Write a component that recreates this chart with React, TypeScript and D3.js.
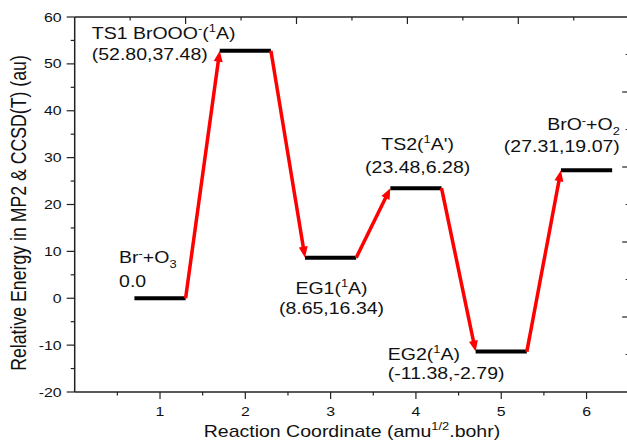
import React from 'react';
import * as d3 from 'd3';

// reaction path data
const positions = [1, 2, 3, 4, 5, 6];
const energies = [0, 52.8, 8.65, 23.48, -11.38, 27.31];
const coordLabels = ['0.0', '(52.80,37.48)', '(8.65,16.34)', '(23.48,6.28)', '(-11.38,-2.79)', '(27.31,19.07)'];

type Seg = { t: string; k?: 'sup' | 'sub' };
const speciesLabels: Seg[][] = [
  [{ t: 'Br' }, { t: '-', k: 'sup' }, { t: '+O' }, { t: '3', k: 'sub' }],
  [{ t: 'TS1 BrOOO' }, { t: '-', k: 'sup' }, { t: '(' }, { t: '1', k: 'sup' }, { t: 'A)' }],
  [{ t: 'EG1(' }, { t: '1', k: 'sup' }, { t: 'A)' }],
  [{ t: 'TS2(' }, { t: '1', k: 'sup' }, { t: "A')" }],
  [{ t: 'EG2(' }, { t: '1', k: 'sup' }, { t: 'A)' }],
  [{ t: 'BrO' }, { t: '-', k: 'sup' }, { t: '+O' }, { t: '2', k: 'sub' }],
];

const xTickValues = [1, 2, 3, 4, 5, 6];
const yTickValues = [-20, -10, 0, 10, 20, 30, 40, 50, 60];

const xTitle: Seg[] = [{ t: 'Reaction Coordinate (amu' }, { t: '1/2', k: 'sup' }, { t: '.bohr)' }];
const yTitle = 'Relative Energy in MP2 & CCSD(T) (au)';

// label placement: anchor, x offset (data units), line baselines relative to level (px)
const labelLayout = [
  { anchor: 'start', dx: -0.48, l1: -35, l2: -11 },
  { anchor: 'start', dx: -1.8, l1: -12, l2: 9.5 },
  { anchor: 'middle', dx: 0.01, l1: 36, l2: 56 },
  { anchor: 'middle', dx: 0.02, l1: -38, l2: -15 },
  { anchor: 'start', dx: -1.33, l1: 8, l2: 27 },
  { anchor: 'end', dx: 0.39, l1: -40, l2: -18 },
];

const W = 627;
const H = 440;
const SX = 1.22; // horizontal stretch of the original figure's text
const FONT = 'Arial, "Liberation Sans", sans-serif';
const AXIS = '#222';
const RED = '#ff0000';

const Rich = ({ segs, size }: { segs: Seg[]; size: number }) => {
  let shift = 0;
  return (
    <>
      {segs.map((s, i) => {
        const target = s.k === 'sup' ? -size * 0.42 : s.k === 'sub' ? size * 0.28 : 0;
        const dy = target - shift;
        shift = target;
        return (
          <tspan key={i} dy={dy} fontSize={s.k ? size * 0.66 : size}>
            {s.t}
          </tspan>
        );
      })}
    </>
  );
};

const App = () => {
  const margin = { top: 17, left: 74.7, bottom: 392, right: 629.2 };

  const x = d3.scaleLinear().domain([0, 6.5]).range([margin.left, margin.right]);
  const y = d3.scaleLinear().domain([-20, 60]).range([margin.bottom, margin.top]);
  // secondary (top / right) axes of the original frame
  const xTop = d3.scaleLinear().domain([0, 5]).range([margin.left, margin.right]);
  const yRight = d3.scaleLinear().domain([0, 5]).range([margin.bottom, margin.top]);

  const xMinor = x.ticks(13).filter(v => v % 1 !== 0);
  const yMinor = y.ticks(16).filter(v => v % 10 !== 0);
  const topMajor = xTop.ticks(5).filter(v => v > 0 && v < 5);
  const topMinor = xTop.ticks(10).filter(v => v % 1 !== 0);
  const rightMajor = yRight.ticks(5).filter(v => v > 0 && v < 5);
  const rightMinor = yRight.ticks(10).filter(v => v % 1 !== 0);

  const half = 0.3;

  // arrows between consecutive levels
  const arrows = positions.slice(0, -1).map((p, i) => {
    const x1 = x(p + half);
    const y1 = y(energies[i]);
    const x2 = x(positions[i + 1] - half);
    const y2 = y(energies[i + 1]);
    const dx = x2 - x1;
    const dy = y2 - y1;
    const len = Math.hypot(dx, dy);
    const ux = dx / len;
    const uy = dy / len;
    const headL = 11;
    const headW = 4.5;
    const bx = x2 - ux * headL;
    const by = y2 - uy * headL;
    const head = [
      [x2, y2],
      [bx - uy * headW, by + ux * headW],
      [bx + uy * headW, by - ux * headW],
    ];
    return { x1, y1, bx: x2 - ux * (headL - 2), by: y2 - uy * (headL - 2), head };
  });

  return (
    <svg
      width={W}
      height={H}
      viewBox={`0 0 ${W} ${H}`}
      style={{ position: 'absolute', left: 0, top: 0, background: '#fff' }}
      fontFamily={FONT}
    >
      {/* frame */}
      <g stroke={AXIS} strokeWidth={1.5} fill="none">
        <line x1={margin.left} x2={margin.right} y1={margin.top} y2={margin.top} />
        <line x1={margin.left} x2={margin.right} y1={margin.bottom} y2={margin.bottom} />
        <line x1={margin.left} x2={margin.left} y1={margin.top} y2={margin.bottom} />
        <line x1={margin.right} x2={margin.right} y1={margin.top} y2={margin.bottom} />
      </g>

      {/* ticks */}
      <g stroke={AXIS} strokeWidth={1.2}>
        {yTickValues.map(v => (
          <line key={v} x1={margin.left - 8} x2={margin.left} y1={y(v)} y2={y(v)} />
        ))}
        {yMinor.map(v => (
          <line key={v} x1={margin.left - 4} x2={margin.left} y1={y(v)} y2={y(v)} />
        ))}
        {xTickValues.map(v => (
          <line key={v} x1={x(v)} x2={x(v)} y1={margin.bottom} y2={margin.bottom + 7} />
        ))}
        {xMinor.map(v => (
          <line key={v} x1={x(v)} x2={x(v)} y1={margin.bottom} y2={margin.bottom + 3.5} />
        ))}
        {topMajor.map(v => (
          <line key={v} x1={xTop(v)} x2={xTop(v)} y1={margin.top} y2={margin.top + 7} />
        ))}
        {topMinor.map(v => (
          <line key={v} x1={xTop(v)} x2={xTop(v)} y1={margin.top} y2={margin.top + 3.5} />
        ))}
        {rightMajor.map(v => (
          <line key={v} x1={margin.right - 7} x2={margin.right} y1={yRight(v)} y2={yRight(v)} />
        ))}
        {rightMinor.map(v => (
          <line key={v} x1={margin.right - 3.5} x2={margin.right} y1={yRight(v)} y2={yRight(v)} />
        ))}
      </g>

      {/* tick labels */}
      <g fill="#111" fontSize={13}>
        {yTickValues.map(v => (
          <text key={v} transform={`translate(${margin.left - 13},${y(v) + 4.6}) scale(${SX},1)`} textAnchor="end">
            {v}
          </text>
        ))}
        {xTickValues.map(v => (
          <text key={v} transform={`translate(${x(v)},${margin.bottom + 24}) scale(${SX},1)`} textAnchor="middle">
            {v}
          </text>
        ))}
      </g>

      {/* axis titles */}
      <text
        transform={`translate(${(margin.left + margin.right) / 2},437) scale(${SX},1)`}
        textAnchor="middle"
        fontSize={16}
        fill="#111"
      >
        <Rich segs={xTitle} size={16} />
      </text>
      <text
        transform={`translate(25.5,213) rotate(-90) scale(1,${SX})`}
        textAnchor="middle"
        fontSize={17.7}
        fill="#111"
      >
        {yTitle}
      </text>

      {/* energy levels */}
      <g stroke="#000" strokeWidth={4}>
        {positions.map((p, i) => (
          <line key={p} x1={x(p - half)} x2={x(p + half)} y1={y(energies[i])} y2={y(energies[i])} />
        ))}
      </g>

      {/* arrows */}
      <g>
        {arrows.map((a, i) => (
          <g key={i}>
            <line x1={a.x1} y1={a.y1} x2={a.bx} y2={a.by} stroke={RED} strokeWidth={3.5} />
            <polygon points={a.head.map(d => d.join(',')).join(' ')} fill={RED} />
          </g>
        ))}
      </g>

      {/* species labels */}
      <g fill="#111" fontSize={16}>
        {positions.map((p, i) => {
          const lay = labelLayout[i];
          const lx = x(p + lay.dx);
          const ly = y(energies[i]);
          return (
            <g key={p}>
              <text transform={`translate(${lx},${ly + lay.l1}) scale(${SX},1)`} textAnchor={lay.anchor}>
                <Rich segs={speciesLabels[i]} size={16} />
              </text>
              <text transform={`translate(${lx},${ly + lay.l2}) scale(${SX},1)`} textAnchor={lay.anchor}>
                {coordLabels[i]}
              </text>
            </g>
          );
        })}
      </g>
    </svg>
  );
};

export default App;
